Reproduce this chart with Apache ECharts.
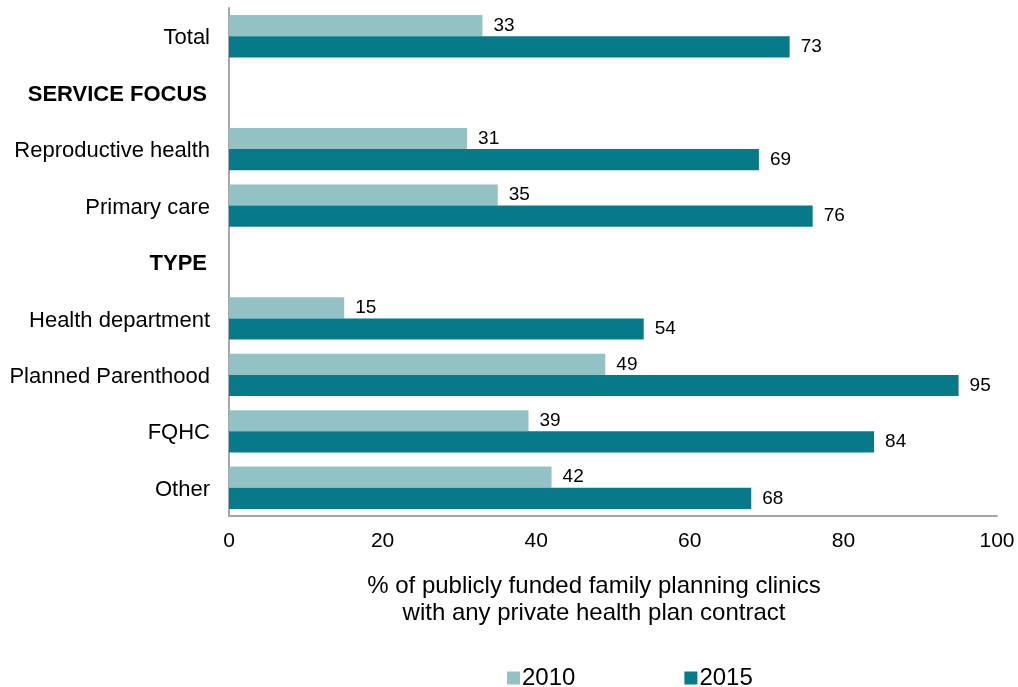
<!DOCTYPE html>
<html>
<head>
<meta charset="utf-8">
<script src="https://cdn.jsdelivr.net/npm/echarts@6/dist/echarts.min.js"></script>
<style>html,body{margin:0;padding:0;background:#fff}#c{width:1018px;height:687px}</style>
</head>
<body>
<div id="c"></div>
<script>
var categories = ['Total', 'SERVICE FOCUS', 'Reproductive health', 'Primary care', 'TYPE', 'Health department', 'Planned Parenthood', 'FQHC', 'Other'];
var headers = ['SERVICE FOCUS', 'TYPE'];
var values2010 = [33, '-', 31, 35, '-', 15, 49, 39, 42];
var values2015 = [73, '-', 69, 76, '-', 54, 95, 84, 68];
var xTicks = [0, 20, 40, 60, 80, 100];
var seriesNames = ['2010', '2015'];

var chart = echarts.init(document.getElementById('c'));
var font = 'Liberation Sans, Arial, sans-serif';
var labelStyle = {show: true, position: 'right', distance: 11, color: '#000', fontSize: 19, fontFamily: font};
chart.setOption({
  animation: false,
  grid: {left: 229, right: 21, top: 8, bottom: 171},
  legend: {
    bottom: -8, left: 502, itemWidth: 13, itemHeight: 13, itemGap: 109,
    icon: 'rect',
    textStyle: {fontSize: 24, fontFamily: font, color: '#000', padding: [0,0,0,-3]},
    data: seriesNames
  },
  xAxis: {
    type: 'value', min: xTicks[0], max: xTicks[xTicks.length-1], interval: 20,
    axisLine: {show: true, lineStyle: {color: '#a6a6a6', width: 2}},
    axisTick: {show: false},
    splitLine: {show: false},
    axisLabel: {fontSize: 21, fontFamily: font, color: '#000', margin: 15},
    name: '% of publicly funded family planning clinics\nwith any private health plan contract',
    nameLocation: 'middle', nameGap: 57,
    nameTextStyle: {fontSize: 24, fontFamily: font, color: '#000', lineHeight: 27, padding: [0, 38, 0, 0]}
  },
  yAxis: {
    type: 'category', inverse: true, data: categories,
    axisLine: {show: true, lineStyle: {color: '#a6a6a6', width: 2}},
    axisTick: {show: false},
    axisLabel: {
      fontSize: 22, fontFamily: font, color: '#000', margin: 19, padding: [4, 0, 0, 0],
      formatter: function (v) { return headers.indexOf(v) >= 0 ? '{b|' + v + '}' : v; },
      rich: {b: {fontWeight: 'bold', fontSize: 22, fontFamily: font, color: '#000', padding: [0, 3, 0, 0]}}
    }
  },
  series: [
    {name: seriesNames[0], type: 'bar', data: values2010, barGap: '0%', barCategoryGap: '25%',
     itemStyle: {color: '#93c2c4'}, label: labelStyle},
    {name: seriesNames[1], type: 'bar', data: values2015, barGap: '0%', barCategoryGap: '25%',
     itemStyle: {color: '#077a89'}, label: labelStyle}
  ]
});
</script>
</body>
</html>
